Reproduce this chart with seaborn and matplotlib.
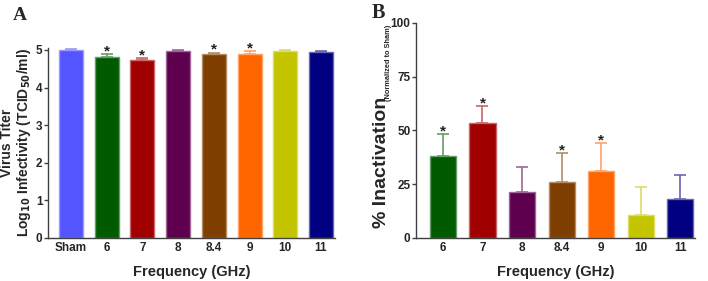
import matplotlib
matplotlib.use("Agg")
import matplotlib.pyplot as plt
import matplotlib.colors as mcolors
import seaborn as sns
import pandas as pd
import numpy as np

sns.set_theme(style="white")
plt.rcParams['font.family'] = ['Liberation Sans', 'DejaVu Sans']
plt.rcParams['font.weight'] = 'bold'

# ---- Data ----
cats_a = ["Sham", "6", "7", "8", "8.4", "9", "10", "11"]
titer = [5.00, 4.82, 4.73, 4.96, 4.89, 4.89, 4.96, 4.94]
titer_err = [0.02, 0.07, 0.05, 0.03, 0.04, 0.07, 0.05, 0.03]
sig_a = [False, True, True, False, True, True, False, False]

cats_b = ["6", "7", "8", "8.4", "9", "10", "11"]
inact = [38.1, 53.6, 21.5, 26.2, 31.1, 10.5, 18.0]
inact_err = [10.0, 7.5, 11.5, 13.1, 12.9, 13.3, 11.1]
sig_b = [True, True, False, True, True, False, False]

colors_a = ["#5555FF", "#005A00", "#A00000", "#5F004F", "#7F3F00", "#FF6600", "#C4C400", "#000080"]
colors_b = colors_a[1:]


def lighten(c, f=0.45):
    r = np.array(mcolors.to_rgb(c))
    return tuple(r + (1 - r) * f)


fig = plt.figure(figsize=(7.08, 2.81), dpi=100)
axA = fig.add_axes([48/708, 1-238/281, (335-48)/708, (238-48)/281])
axB = fig.add_axes([416/708, 1-238/281, (695-416)/708, (238-22.7)/281])

spine_col = "#404040"


def draw(ax, cats, vals, errs, sig, cols, width, ylim, yticks):
    df = pd.DataFrame({"cat": cats, "val": vals})
    sns.barplot(data=df, x="cat", y="val", hue="cat", palette=cols, order=cats,
                hue_order=cats, legend=False, width=width, ax=ax, saturation=1,
                errorbar=None)
    for i, p in enumerate(ax.patches):
        p.set_edgecolor(lighten(cols[i], 0.4))
        p.set_linewidth(1.0)
    x = np.arange(len(cats))
    for i in range(len(cats)):
        ax.errorbar(x[i], vals[i], yerr=[[0], [errs[i]]], fmt="none",
                    ecolor=lighten(cols[i], 0.4), elinewidth=1.2, capsize=4.5,
                    capthick=1.2, zorder=3)
        if sig[i]:
            ax.annotate("*", (x[i], vals[i] + errs[i]), xytext=(0, -3),
                        textcoords="offset points", ha="center", va="bottom",
                        fontsize=11, fontweight="bold", color="#222222")
    ax.set_ylim(*ylim)
    ax.set_yticks(yticks)
    ax.set_yticklabels([str(t) for t in yticks], fontsize=8.5, fontweight="bold")
    ax.set_xticks(x)
    ax.set_xticklabels(cats, fontsize=8.5, fontweight="bold")
    for s in ["top", "right"]:
        ax.spines[s].set_visible(False)
    for s in ["left", "bottom"]:
        ax.spines[s].set_color(spine_col)
        ax.spines[s].set_linewidth(1.0)
    ax.tick_params(axis="y", direction="out", length=3, width=1, color=spine_col,
                   pad=1, left=True)
    ax.tick_params(axis="x", length=0, pad=3)
    ax.set_xlabel("Frequency (GHz)", fontsize=10.5, fontweight="bold", labelpad=8)


draw(axA, cats_a, titer, titer_err, sig_a, colors_a, 0.67, (0, 5.05),
     [0, 1, 2, 3, 4, 5])
axA.set_xlim(-0.64, 7.39)
axA.set_ylabel("Virus Titer\nLog$_{\\mathbf{10}}$ Infectivity (TCID$_{\\mathbf{50}}$/ml)",
               fontsize=10, fontweight="bold", labelpad=2, linespacing=1.05)

draw(axB, cats_b, inact, inact_err, sig_b, colors_b, 0.66, (0, 100),
     [0, 25, 50, 75, 100])
axB.set_xlim(-0.68, 6.37)
axB.set_ylabel("")
axB.text(-0.125, 0.35, "% Inactivation", rotation=90, transform=axB.transAxes,
         fontsize=14, fontweight="bold", ha="center", va="center")
axB.text(-0.1, 0.815, "(Normalized to Sham)", rotation=90, transform=axB.transAxes,
         fontsize=5.3, fontweight="bold", ha="center", va="center")

fig.text(13/708, 1-19.5/281, "A", family="Liberation Serif", fontsize=14,
         fontweight="bold", ha="left", va="baseline")
fig.text(372/708, 1-18/281, "B", family="Liberation Serif", fontsize=14.5,
         fontweight="bold", ha="left", va="baseline")

fig.savefig("out.png", dpi=100)
